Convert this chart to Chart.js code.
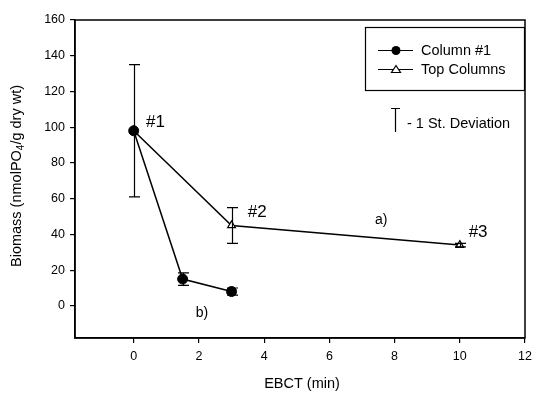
<!DOCTYPE html>
<html>
<head>
<meta charset="utf-8">
<script src="https://cdn.jsdelivr.net/npm/chart.js@4/dist/chart.umd.min.js"></script>
<style>
  html, body { margin: 0; padding: 0; background: #fff; }
  #chart { display: block; }
</style>
</head>
<body>
<canvas id="chart" width="538" height="398"></canvas>
<script>
// data
const col1X = [0, 1.5, 3]
const col1Y = [98, 15, 8]
const col1Err = [37, 3.5, 2]

const topX = [0, 3, 10]
const topY = [98, 45, 34]
const topErr = [0, 10, 1]

const xTicks = [0, 2, 4, 6, 8, 10, 12]
const yTicks = [0, 20, 40, 60, 80, 100, 120, 140, 160]

// text notes placed in data units
const noteText = ['#1', '#2', '#3', 'a)', 'b)']
const noteX = [0.38, 3.5, 10.27, 7.4, 1.9]
const noteY = [103, 52.5, 41, 48, -4]
const noteSize = [17, 17, 17, 14, 14]

const FONT = '"Liberation Sans", Arial, sans-serif'

var toPoints = (xs, ys, errs) => xs.map((x, i) => ({x: x, y: ys[i], err: errs[i]}))

// error bars, frame, notes, legend and axis titles
const extras = {
  id: 'extras',
  afterDatasetsDraw(chart) {
    const ctx = chart.ctx
    const xs = chart.scales.x
    const ys = chart.scales.y
    const area = chart.chartArea

    ctx.save()
    ctx.strokeStyle = '#000'
    ctx.lineWidth = 1.2

    // error bars
    chart.data.datasets.forEach((ds) => {
      ds.data.forEach((p) => {
        if (!p.err) return
        const px = Math.round(xs.getPixelForValue(p.x)) + 0.5
        const top = ys.getPixelForValue(p.y + p.err)
        const bot = ys.getPixelForValue(p.y - p.err)
        ctx.beginPath()
        ctx.moveTo(px, top); ctx.lineTo(px, bot)
        ctx.moveTo(px - 5.5, top); ctx.lineTo(px + 5.5, top)
        ctx.moveTo(px - 5.5, bot); ctx.lineTo(px + 5.5, bot)
        ctx.stroke()
      })
    })

    // frame
    ctx.lineWidth = 1.5
    ctx.strokeRect(Math.round(area.left), Math.round(area.top),
      Math.round(area.right - area.left), Math.round(area.bottom - area.top))
    ctx.lineWidth = 1.2

    // notes
    ctx.fillStyle = '#000'
    ctx.textBaseline = 'middle'
    ctx.textAlign = 'left'
    noteText.forEach((t, i) => {
      ctx.font = noteSize[i] + 'px ' + FONT
      ctx.fillText(t, xs.getPixelForValue(noteX[i]), ys.getPixelForValue(noteY[i]))
    })

    // legend box
    ctx.strokeRect(365.5, 27.5, 159, 63)
    ctx.font = '14.5px ' + FONT
    const rows = [[50, 'Column #1', 'circle'], [69, 'Top Columns', 'triangle']]
    rows.forEach(([y, label, kind]) => {
      ctx.beginPath()
      ctx.moveTo(378, y + 0.5); ctx.lineTo(413, y + 0.5)
      ctx.stroke()
      if (kind === 'circle') {
        ctx.beginPath()
        ctx.arc(396, y + 0.5, 4.5, 0, Math.PI * 2)
        ctx.fill()
      } else {
        ctx.beginPath()
        ctx.moveTo(396, y - 3.5); ctx.lineTo(400.5, y + 3.5); ctx.lineTo(391.5, y + 3.5)
        ctx.closePath()
        ctx.fillStyle = '#fff'; ctx.fill()
        ctx.stroke()
        ctx.fillStyle = '#000'
      }
      ctx.fillText(label, 421, y + 1)
    })

    // std deviation key
    ctx.beginPath()
    ctx.moveTo(395.5, 108); ctx.lineTo(395.5, 132)
    ctx.moveTo(391, 108.5); ctx.lineTo(400, 108.5)
    ctx.stroke()
    ctx.fillText('- 1 St. Deviation', 407, 124)

    // x title
    ctx.font = '14.5px ' + FONT
    ctx.textAlign = 'center'
    ctx.fillText('EBCT (min)', 302, 384)

    // y title, with subscript 4
    ctx.translate(17, 176)
    ctx.rotate(-Math.PI / 2)
    const a = 'Biomass (nmolPO', b = '4', c = '/g dry wt)'
    ctx.font = '14.5px ' + FONT
    const wa = ctx.measureText(a).width, wc = ctx.measureText(c).width
    ctx.font = '10px ' + FONT
    const wb = ctx.measureText(b).width
    let x0 = -(wa + wb + wc) / 2
    ctx.textAlign = 'left'
    ctx.font = '14.5px ' + FONT
    ctx.fillText(a, x0, 0)
    ctx.font = '10px ' + FONT
    ctx.fillText(b, x0 + wa, 4)
    ctx.font = '14.5px ' + FONT
    ctx.fillText(c, x0 + wa + wb, 0)
    ctx.restore()
  }
}

const ctx = document.getElementById('chart').getContext('2d')
const myChart = new Chart(ctx, {
  type: 'scatter',
  data: {
    datasets: [
      {
        label: 'Column #1',
        data: toPoints(col1X, col1Y, col1Err),
        showLine: true,
        borderColor: '#000',
        borderWidth: 1.5,
        pointStyle: 'circle',
        pointRadius: 5,
        pointBackgroundColor: '#000',
        pointBorderColor: '#000',
        pointBorderWidth: 1
      },
      {
        label: 'Top Columns',
        data: toPoints(topX, topY, topErr),
        showLine: true,
        borderColor: '#000',
        borderWidth: 1.5,
        pointStyle: 'triangle',
        pointRadius: 4.5,
        pointBackgroundColor: '#fff',
        pointBorderColor: '#000',
        pointBorderWidth: 1.2
      }
    ]
  },
  options: {
    responsive: false,
    animation: false,
    layout: { padding: { top: 20, right: 8, left: 0, bottom: 0 } },
    plugins: { legend: { display: false }, tooltip: { enabled: false } },
    scales: {
      x: {
        type: 'linear',
        min: -1.8,
        max: 12,
        afterBuildTicks: (s) => { s.ticks = xTicks.map(v => ({value: v})) },
        afterFit: (s) => { s.height = 60 },
        grid: { drawOnChartArea: false, drawTicks: true, tickLength: 5, color: '#000', lineWidth: 1.2 },
        border: { display: true, color: '#000', width: 1.5 },
        ticks: { color: '#000', padding: 6, font: { family: FONT, size: 12.5 }, maxRotation: 0 }
      },
      y: {
        type: 'linear',
        min: -18,
        max: 160,
        afterBuildTicks: (s) => { s.ticks = yTicks.map(v => ({value: v})) },
        afterFit: (s) => { s.width = 75 },
        grid: { drawOnChartArea: false, drawTicks: true, tickLength: 5, color: '#000', lineWidth: 1.2 },
        border: { display: true, color: '#000', width: 1.5 },
        ticks: { color: '#000', padding: 5, font: { family: FONT, size: 12.5 } }
      }
    }
  },
  plugins: [extras]
})
</script>
</body>
</html>
